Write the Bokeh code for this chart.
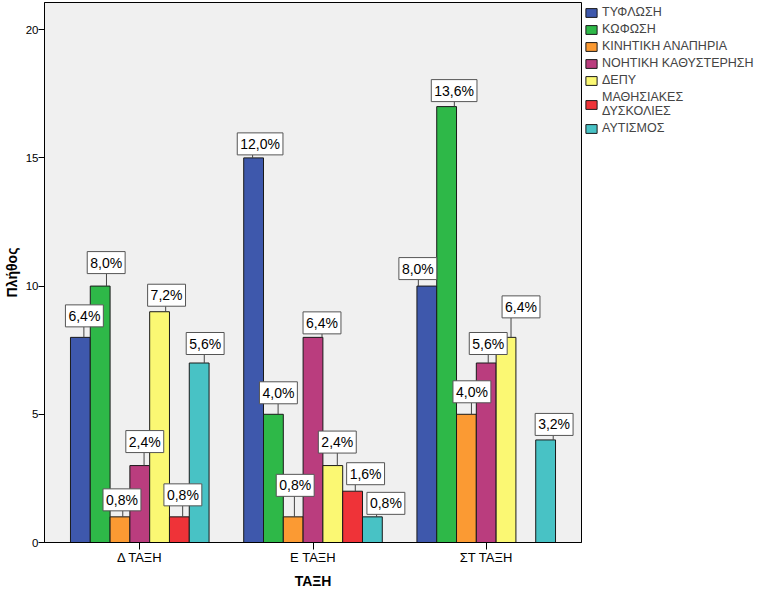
from bokeh.plotting import figure
from bokeh.models import (FactorRange, Range1d, ColumnDataSource, Legend, LegendItem,
                          FixedTicker)
from bokeh.transform import dodge
from bokeh.core.properties import value
from bokeh.embed import file_html
from bokeh.resources import INLINE

# ---------------- data ----------------
classes = ["Δ ΤΑΞΗ", "Ε ΤΑΞΗ", "ΣΤ ΤΑΞΗ"]
disabilities = ["ΤΥΦΛΩΣΗ", "ΚΩΦΩΣΗ", "ΚΙΝΗΤΙΚΗ ΑΝΑΠΗΡΙΑ", "ΝΟΗΤΙΚΗ ΚΑΘΥΣΤΕΡΗΣΗ",
                "ΔΕΠΥ", "ΜΑΘΗΣΙΑΚΕΣ\nΔΥΣΚΟΛΙΕΣ", "ΑΥΤΙΣΜΟΣ"]
tyflosi = [8, 15, 10]
kofosi = [10, 5, 17]
kinitiki = [1, 1, 5]
noitiki = [3, 8, 7]
depy = [9, 3, 8]
mathisiakes = [1, 2, 0]
autismos = [7, 1, 4]
series = [tyflosi, kofosi, kinitiki, noitiki, depy, mathisiakes, autismos]
y_ticks = [0, 5, 10, 15, 20]
x_title = "ΤΑΞΗ"
y_title = "Πλήθος"

# ---------------- styles / layout ----------------
colors = ["#3E58AC", "#2EB848", "#FB9A33", "#BA3D7E", "#FBF873", "#EF3338", "#48C2C5"]
FONT = "Liberation Sans"
FRAME_W, FRAME_H = 537, 540
Y_END = 21.06
X_PAD = 0.05
X_SPAN = len(classes) + 2 * X_PAD
PX_X = FRAME_W / X_SPAN          # px per x unit
PX_Y = FRAME_H / Y_END           # px per y unit
BAR_W = 0.8 / len(disabilities)

# label placement (px): horizontal shift of box centre, gap bar-top -> box bottom,
# and horizontal shift of leader line (per series, per class)
label_dx = [[4, 6.5, -9], [6, 5, 7.5], [2, 2, 5.5], [5, 9, 2], [7, 4.5, 15], [3.5, 13, 0], [6, 13.5, 8.5]]
label_gap = [[10.5, 3, 6.5], [12.5, 10.5, 5], [6, 20.5, 11.5], [13, 3.5, 8.5], [5.5, 12.5, 19.5], [11, 6.5, 0], [8.5, 2.5, 4.5]]
leader_dx = [[3.5, -1, -8.5], [6.3, 4.7, 7.7], [2.8, 1.2, 5], [4.3, 9, 2], [6.1, 4.5, 5], [3.3, 2.7, 0], [5.1, 4.2, 7.6]]

total = sum(sum(s) for s in series)

p = figure(x_range=FactorRange(*classes, range_padding=X_PAD, range_padding_units="absolute"),
           y_range=Range1d(0, Y_END),
           frame_width=FRAME_W, frame_height=FRAME_H,
           output_backend="svg", toolbar_location=None,
           min_border_left=0, min_border_top=2, min_border_bottom=0, min_border_right=0,
           background_fill_color="#F0F0F0", border_fill_color="white")

p.outline_line_color = "black"
p.outline_line_alpha = 1
p.xgrid.visible = False
p.ygrid.visible = False

n = len(disabilities)
items = []
lx, ly0, ly1 = [], [], []
tx, ty, txt = [], [], []
for i, (name, vals) in enumerate(zip(disabilities, series)):
    off = (i - (n - 1) / 2) * BAR_W
    keep = [j for j, v in enumerate(vals) if v > 0]
    src = ColumnDataSource(dict(cls=[classes[j] for j in keep], val=[vals[j] for j in keep]))
    r = p.vbar(x=dodge("cls", off, range=p.x_range), top="val", width=BAR_W, source=src,
               fill_color=colors[i], line_color="#1a1a1a", line_width=1)
    items.append(LegendItem(label=name, renderers=[r]))
    for j in keep:
        v = vals[j]
        cx = j + 0.5 + off
        lx.append(cx + leader_dx[i][j] / PX_X)
        ly0.append(v)
        ly1.append(v + label_gap[i][j] / PX_Y)
        tx.append(cx + label_dx[i][j] / PX_X)
        ty.append(v + (label_gap[i][j] + 11) / PX_Y)
        pct = f"{100 * v / total:.1f}%".replace(".", ",")
        txt.append(pct)

p.segment(x0=lx, y0=ly0, x1=lx, y1=ly1, line_color="#444444", line_width=1)
lsrc = ColumnDataSource(dict(x=tx, y=ty, t=txt))
p.text(x="x", y="y", text="t", source=lsrc, text_align="center", text_baseline="middle",
       text_font=value(FONT), text_font_size="14px", text_color="black",
       background_fill_color="white", border_line_color="#555555", border_line_width=1,
       padding=3)

legend = Legend(items=items, location="top_left", border_line_alpha=0,
                background_fill_alpha=0, label_text_font=FONT, label_text_font_size="12.5px",
                glyph_width=14, glyph_height=11, label_standoff=4, spacing=3,
                label_height=12, padding=0, margin=3, label_text_line_height=0.85)
p.add_layout(legend, "right")

p.yaxis.ticker = FixedTicker(ticks=y_ticks)
p.yaxis.axis_label = y_title
p.xaxis.axis_label = x_title
for ax in (p.xaxis[0], p.yaxis[0]):
    ax.axis_label_text_font = FONT
    ax.axis_label_text_font_style = "bold"
    ax.axis_label_text_font_size = "14px"
    ax.axis_label_text_color = "black"
    ax.major_label_text_font = FONT
    ax.major_label_text_color = "black"
    ax.major_tick_in = 0
    ax.major_tick_line_color = "black"
    ax.minor_tick_line_color = None
    ax.axis_line_color = "black"
p.yaxis.major_tick_out = 6
p.yaxis.major_label_text_font_size = "11.5px"
p.yaxis.major_label_standoff = 0
p.yaxis.axis_label_standoff = 3
p.xaxis.major_tick_out = 7
p.xaxis.major_label_text_font_size = "13px"
p.xaxis.major_label_standoff = 0
p.xaxis.axis_label_standoff = 5

open("out.html", "w").write(file_html(p, INLINE))
